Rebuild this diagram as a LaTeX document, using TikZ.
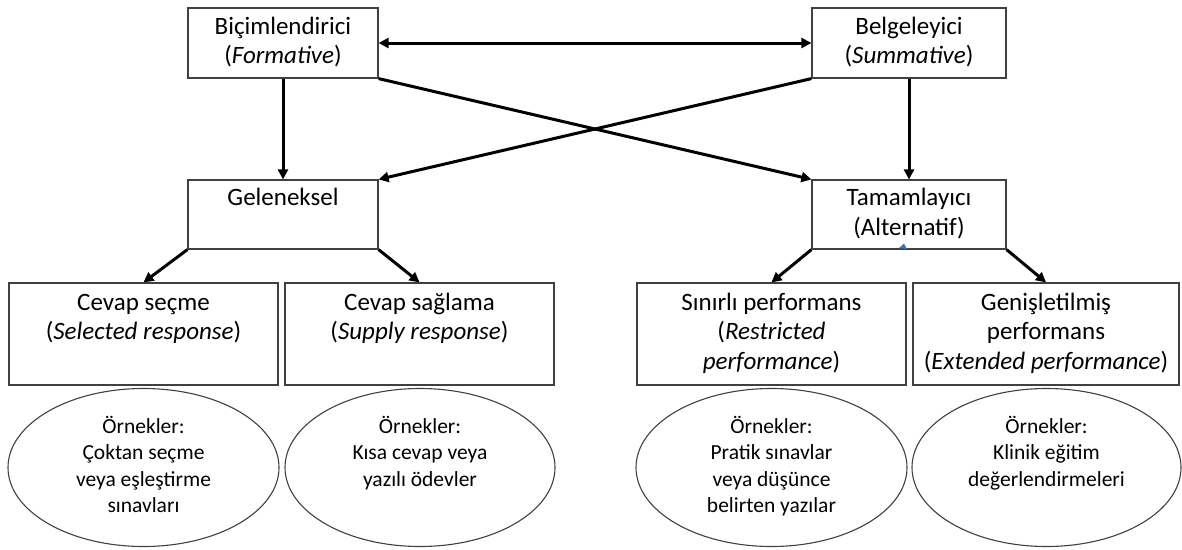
\documentclass[tikz,border=0pt]{standalone}
\usepackage{fontspec}
\setmainfont{Carlito}
\usetikzlibrary{arrows.meta,shapes.geometric}
\definecolor{boxline}{HTML}{404040}
\definecolor{cursorblue}{HTML}{4472C4}
\tikzset{
  box/.style={draw=boxline, line width=1.2pt, rectangle, inner sep=0pt, align=center,
              font=\fontsize{25}{29.5}\selectfont},
  oval/.style={draw=boxline, line width=1.1pt, ellipse, inner sep=0pt, align=center,
              font=\fontsize{21.5}{26.5}\selectfont},
  conn/.style={line width=3pt, -{Triangle[length=10pt,width=10pt]}},
  dconn/.style={line width=3pt, {Triangle[length=10pt,width=10pt]}-{Triangle[length=10pt,width=10pt]}}
}
\begin{document}
\begin{tikzpicture}[x=1pt,y=-1pt]
\useasboundingbox (0,0) rectangle (1182,549);
% top row
\node[box, minimum width=190pt, minimum height=70pt] (form) at (283,43) {\strut Biçimlendirici\\\strut(\textit{Formative})};
\node[box, minimum width=194pt, minimum height=70pt] (summ) at (909,43) {\strut Belgeleyici\\\strut(\textit{Summative})};
% middle row
\node[box, minimum width=190pt, minimum height=69pt] (gel) at (283,214.5) {\strut Geleneksel\\\strut};
\node[box, minimum width=194pt, minimum height=69pt] (tam) at (909,214.5) {\strut Tamamlayıcı\\\strut(Alternatif)};
% bottom row
\node[box, minimum width=269pt, minimum height=102pt] (cs) at (143.5,334) {\strut Cevap seçme\\\strut(\textit{Selected response})\\\strut};
\node[box, minimum width=269pt, minimum height=102pt] (ca) at (419.5,334) {\strut Cevap sağlama\\\strut(\textit{Supply response})\\\strut};
\node[box, minimum width=269pt, minimum height=102pt] (sp) at (771.5,334) {\strut Sınırlı performans\\\strut(\textit{Restricted}\\\strut\textit{performance})};
\node[box, minimum width=266pt, minimum height=102pt] (gp) at (1046,334) {\strut Genişletilmiş\\\strut performans\\\strut(\textit{Extended performance})};
% ellipses
\node[oval, minimum width=271pt, minimum height=158pt] (e1) at (143.5,467.5) {\strut Örnekler:\\\strut Çoktan seçme\\\strut veya eşleştirme\\\strut sınavları};
\node[oval, minimum width=270pt, minimum height=158pt] (e2) at (420,467.5) {\strut Örnekler:\\\strut Kısa cevap veya\\\strut yazılı ödevler\\\strut};
\node[oval, minimum width=271pt, minimum height=158pt] (e3) at (771.5,467.5) {\strut Örnekler:\\\strut Pratik sınavlar\\\strut veya düşünce\\\strut belirten yazılar};
\node[oval, minimum width=269pt, minimum height=158pt] (e4) at (1046.5,467.5) {\strut Örnekler:\\\strut Klinik eğitim\\\strut değerlendirmeleri\\\strut};
% connectors
\draw[dconn] (form.east) -- (summ.west);
\draw[conn] (form.south) -- (gel.north);
\draw[conn] (summ.south) -- (tam.north);
\draw[conn] (form.south east) -- (tam.north west);
\draw[conn] (summ.south west) -- (gel.north east);
\draw[conn] (gel.south west) -- (cs.north);
\draw[conn] (gel.south east) -- (ca.north);
\draw[conn] (tam.south west) -- (sp.north);
\draw[conn] (tam.south east) -- (gp.north);
% small blue cursor mark
\fill[cursorblue] (899,248) -- (907,249) -- (904,243.5) -- cycle;
\end{tikzpicture}
\end{document}
